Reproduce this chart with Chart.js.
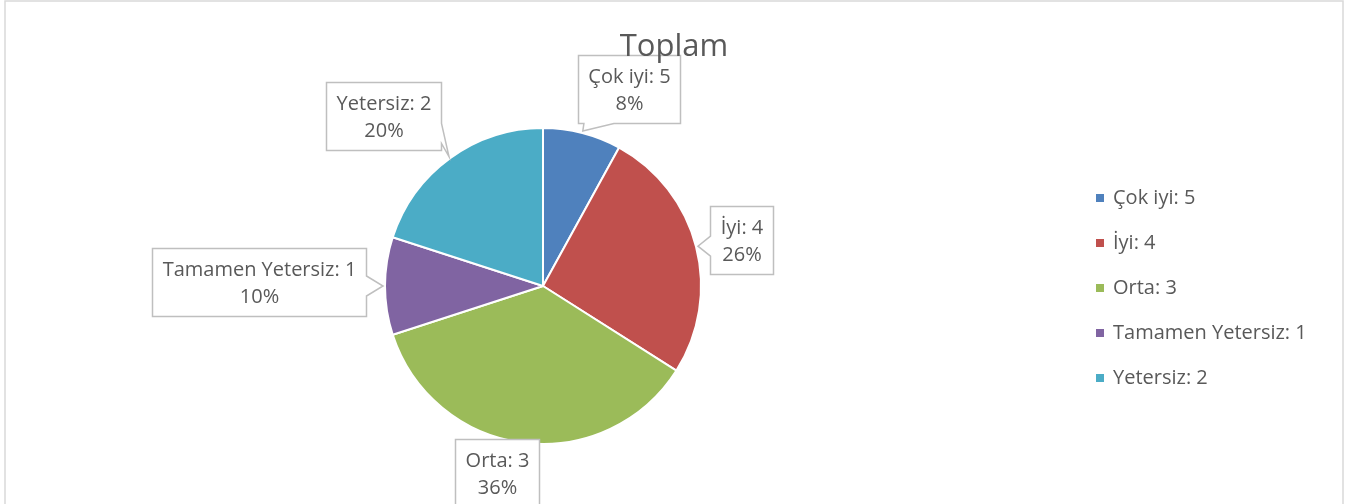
<!DOCTYPE html>
<html>
<head>
<meta charset="utf-8">
<script src="https://cdn.jsdelivr.net/npm/chart.js@4.4.1/dist/chart.umd.min.js"></script>
<style>
  html, body { margin: 0; padding: 0; background: #fff; }
  canvas { display: block; }
</style>
</head>
<body>
<canvas id="pie" width="1349" height="504"></canvas>
<script>
const categories = ['Çok iyi: 5', 'İyi: 4', 'Orta: 3', 'Tamamen Yetersiz: 1', 'Yetersiz: 2'];
const shares = [8, 26, 36, 10, 20];
const sliceColors = ['#4F81BD', '#C0504D', '#9BBB59', '#8064A2', '#4BACC6'];
const chartTitle = 'Toplam';

// where each callout box sits, relative to the rim point at the slice's mid angle
const calloutShift = [[46, -42], [44, -6], [-26, 28], [-124, -4], [-65, -41]];

const FONT = '"Open Sans", Lato, sans-serif';
const TEXT = '#595959';
const clamp = (v, a, b) => Math.max(a, Math.min(b, v));

// white page with the light grey chart frame
const framePlugin = {
  id: 'frame',
  beforeDraw(chart) {
    const ctx = chart.ctx;
    ctx.save();
    ctx.fillStyle = '#fff';
    ctx.fillRect(0, 0, chart.width, chart.height);
    ctx.strokeStyle = '#D9D9D9';
    ctx.lineWidth = 1.5;
    ctx.beginPath();
    ctx.moveTo(5, chart.height + 2);
    ctx.lineTo(5, 1);
    ctx.lineTo(1343, 1);
    ctx.lineTo(1343, chart.height + 2);
    ctx.stroke();
    ctx.restore();
  },
  afterDraw(chart) {
    const ctx = chart.ctx;
    ctx.save();
    ctx.fillStyle = TEXT;
    ctx.font = '31px ' + FONT;
    ctx.textAlign = 'center';
    ctx.textBaseline = 'alphabetic';
    ctx.fillText(chartTitle, 674, 56);

    // legend on the right
    ctx.font = '20px ' + FONT;
    ctx.textAlign = 'left';
    ctx.textBaseline = 'middle';
    categories.forEach((c, i) => {
      const y = 198 + i * 45;
      ctx.fillStyle = sliceColors[i];
      ctx.fillRect(1096, y - 4, 8, 8);
      ctx.fillStyle = TEXT;
      ctx.fillText(c, 1113, y);
    });
    ctx.restore();
  }
};

function calloutPath(ctx, l, t, r, b, tx, ty) {
  const dx = tx < l ? l - tx : tx > r ? tx - r : 0;
  const dy = ty < t ? t - ty : ty > b ? ty - b : 0;
  let side = null;
  if (dx > 2 || dy > 2) side = dy >= dx ? (ty > b ? 'bottom' : 'top') : (tx > r ? 'right' : 'left');
  const bw = r - l, bh = b - t;
  const cx = clamp(tx, l + bw * 0.2, r - bw * 0.2), hx = Math.min(15, bw * 0.15);
  const cy = clamp(ty, t + bh * 0.25, b - bh * 0.25), hy = Math.min(10, bh * 0.15);
  ctx.beginPath();
  ctx.moveTo(l, t);
  if (side === 'top') { ctx.lineTo(cx - hx, t); ctx.lineTo(tx, ty); ctx.lineTo(cx + hx, t); }
  ctx.lineTo(r, t);
  if (side === 'right') { ctx.lineTo(r, cy - hy); ctx.lineTo(tx, ty); ctx.lineTo(r, cy + hy); }
  ctx.lineTo(r, b);
  if (side === 'bottom') { ctx.lineTo(cx + hx, b); ctx.lineTo(tx, ty); ctx.lineTo(cx - hx, b); }
  ctx.lineTo(l, b);
  if (side === 'left') { ctx.lineTo(l, cy + hy); ctx.lineTo(tx, ty); ctx.lineTo(l, cy - hy); }
  ctx.closePath();
}

// data labels drawn as boxed callouts pointing at their slice
const calloutPlugin = {
  id: 'callouts',
  afterDatasetsDraw(chart) {
    const ctx = chart.ctx;
    const meta = chart.getDatasetMeta(0);
    const total = shares.reduce((a, b) => a + b, 0);
    ctx.save();
    ctx.font = '20px ' + FONT;
    meta.data.forEach((arc, i) => {
      const p = arc.getProps(['x', 'y', 'startAngle', 'endAngle', 'outerRadius'], true);
      const mid = (p.startAngle + p.endAngle) / 2;
      const tipX = p.x + Math.cos(mid) * (p.outerRadius + 2);
      const tipY = p.y + Math.sin(mid) * (p.outerRadius + 2);
      const lines = [categories[i], Math.round(shares[i] / total * 100) + '%'];
      const w = Math.round(Math.max(...lines.map(s => ctx.measureText(s).width)) + 20);
      const h = 68;
      const bx = tipX + calloutShift[i][0], by = tipY + calloutShift[i][1];
      const l = Math.round(bx - w / 2) + 0.5, t = Math.round(by - h / 2) + 0.5;
      calloutPath(ctx, l, t, l + w, t + h, tipX, tipY);
      ctx.fillStyle = '#fff';
      ctx.fill();
      ctx.strokeStyle = '#BFBFBF';
      ctx.lineWidth = 1.5;
      ctx.stroke();
      ctx.fillStyle = TEXT;
      ctx.textAlign = 'center';
      ctx.textBaseline = 'middle';
      ctx.fillText(lines[0], l + w / 2, t + h / 2 - 12);
      ctx.fillText(lines[1], l + w / 2, t + h / 2 + 15);
    });
    ctx.restore();
  }
};

new Chart(document.getElementById('pie'), {
  type: 'pie',
  data: {
    labels: categories,
    datasets: [{
      data: shares,
      backgroundColor: sliceColors,
      borderColor: '#fff',
      borderWidth: 2,
      radius: 158
    }]
  },
  options: {
    responsive: false,
    animation: false,
    layout: { padding: { left: 0, right: 263, top: 68, bottom: 0 } },
    plugins: {
      legend: { display: false },
      tooltip: { enabled: false }
    }
  },
  plugins: [framePlugin, calloutPlugin]
});
</script>
</body>
</html>
